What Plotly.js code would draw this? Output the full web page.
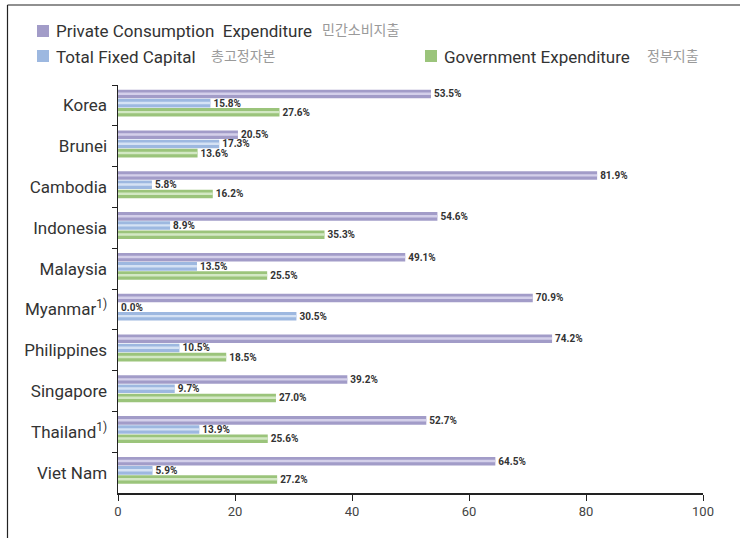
<!DOCTYPE html>
<html>
<head>
<meta charset="utf-8">
<script src="https://cdn.plot.ly/plotly-3.0.1.min.js"></script>
<style>html,body{margin:0;padding:0;background:#fff;}#chart{width:740px;height:539px;}</style>
</head>
<body>
<div id="chart"></div>
<script>
const countries = ['Korea','Brunei','Cambodia','Indonesia','Malaysia','Myanmar<sup>1)</sup>','Philippines','Singapore','Thailand<sup>1)</sup>','Viet Nam'];
const privateConsumption = [53.5,20.5,81.9,54.6,49.1,70.9,74.2,39.2,52.7,64.5];
const totalFixedCapital = [15.8,17.3,5.8,8.9,13.5,0.0,10.5,9.7,13.9,5.9];
const governmentExpenditure = [27.6,13.6,16.2,35.3,25.5,30.5,18.5,27.0,25.6,27.2];
const seriesNames = ['Private Consumption  Expenditure','Total Fixed Capital','Government Expenditure'];
const seriesNamesKo = ['민간소비지출','총고정자본','정부지출'];
const xTicks = [0,20,40,60,80,100];

const C_PUR = '#a29cc8', C_BLU = '#9db8e0', C_GRN = '#9bc47b';
const L_PUR = '#d4d0ea', L_BLU = '#d5e2f4', L_GRN = '#d3e8c4';
const FONT = 'Roboto, "Noto Sans CJK KR", sans-serif';
const isMyanmar = countries.map(c => c.startsWith('Myanmar'));
// Myanmar's third bar is drawn in blue in the reference
const govColors = isMyanmar.map(m => m ? C_BLU : C_GRN);
const govLight = isMyanmar.map(m => m ? L_BLU : L_GRN);

const BW = 0.21;
const offs = [-0.385, -0.16, 0.065];

function tr(vals, name, color, off) {
  return {
    type: 'bar', orientation: 'h', y: countries, x: vals, name: name,
    width: BW, offset: off,
    marker: {color: color, line: {width: 0}},
    texttemplate: '%{x:.1f}%', textposition: 'outside', cliponaxis: false, constraintext: 'none',
    textfont: {family: FONT, size: 10, color: '#333', weight: 'bold'},
    hoverinfo: 'x+y'
  };
}
function stripe(vals, color, off) {
  return {
    type: 'bar', orientation: 'h', y: countries, x: vals,
    width: 0.06, offset: off + 0.07,
    marker: {color: color, line: {width: 0}}, hoverinfo: 'skip'
  };
}
const data = [
  tr(privateConsumption, seriesNames[0], C_PUR, offs[0]),
  tr(totalFixedCapital, seriesNames[1], C_BLU, offs[1]),
  tr(governmentExpenditure, seriesNames[2], govColors, offs[2]),
  stripe(privateConsumption, L_PUR, offs[0]),
  stripe(totalFixedCapital, L_BLU, offs[1]),
  stripe(governmentExpenditure, govLight, offs[2])
];

const L = 118, T = 85, W = 585, H = 408;
const px = x => (x - L) / W;
const py = y => (T + H - y) / H;

const shapes = [
  {type:'line', xref:'paper', yref:'paper', x0:px(7.5), x1:px(7.5), y0:py(5), y1:py(538), line:{color:'#222', width:1.2}},
  {type:'line', xref:'paper', yref:'paper', x0:px(7.5), x1:px(745), y0:py(5), y1:py(5), line:{color:'#222', width:1.2}},
  {type:'rect', xref:'paper', yref:'paper', x0:px(37), x1:px(49), y0:py(37), y1:py(25), fillcolor:C_PUR, line:{width:0}},
  {type:'rect', xref:'paper', yref:'paper', x0:px(37), x1:px(49), y0:py(62), y1:py(50), fillcolor:C_BLU, line:{width:0}},
  {type:'rect', xref:'paper', yref:'paper', x0:px(425), x1:px(437), y0:py(62), y1:py(50), fillcolor:C_GRN, line:{width:0}}
];
function ann(x, y, text, color, size) {
  return {xref:'paper', yref:'paper', x:px(x), y:py(y), xanchor:'left', yanchor:'middle', showarrow:false,
          text:text, font:{family:FONT, size:size, color:color}};
}
const annotations = [
  ann(54, 31, seriesNames[0], '#333', 17),
  ann(320, 30, seriesNamesKo[0], '#9a9a9a', 14),
  ann(54, 57, seriesNames[1], '#333', 17),
  ann(209, 56, seriesNamesKo[1], '#9a9a9a', 14),
  ann(442, 57, seriesNames[2], '#333', 17),
  ann(645, 56, seriesNamesKo[2], '#9a9a9a', 14)
];

const layout = {
  width: 740, height: 539,
  margin: {l: L, r: 740 - L - W, t: T, b: 539 - T - H},
  paper_bgcolor: '#fff', plot_bgcolor: '#fff',
  showlegend: false,
  barmode: 'overlay',
  font: {family: FONT, color: '#333'},
  xaxis: {range: [0, 100], tickvals: xTicks, showgrid: false, zeroline: false,
          showline: true, linecolor: '#222', linewidth: 1.5, ticks: 'outside', ticklen: 6, tickcolor: '#222',
          tickfont: {family: FONT, size: 13, color: '#444'}},
  yaxis: {autorange: 'reversed', type: 'category', showgrid: false, zeroline: false,
          showline: true, linecolor: '#222', linewidth: 1.5, ticks: 'outside', ticklen: 5, tickcolor: '#222',
          tickson: 'boundaries', ticklabelstandoff: 6, tickfont: {family: FONT, size: 17, color: '#333'}},
  shapes: shapes, annotations: annotations
};
Plotly.newPlot('chart', data, layout, {displayModeBar: false, staticPlot: true});
</script>
</body>
</html>
